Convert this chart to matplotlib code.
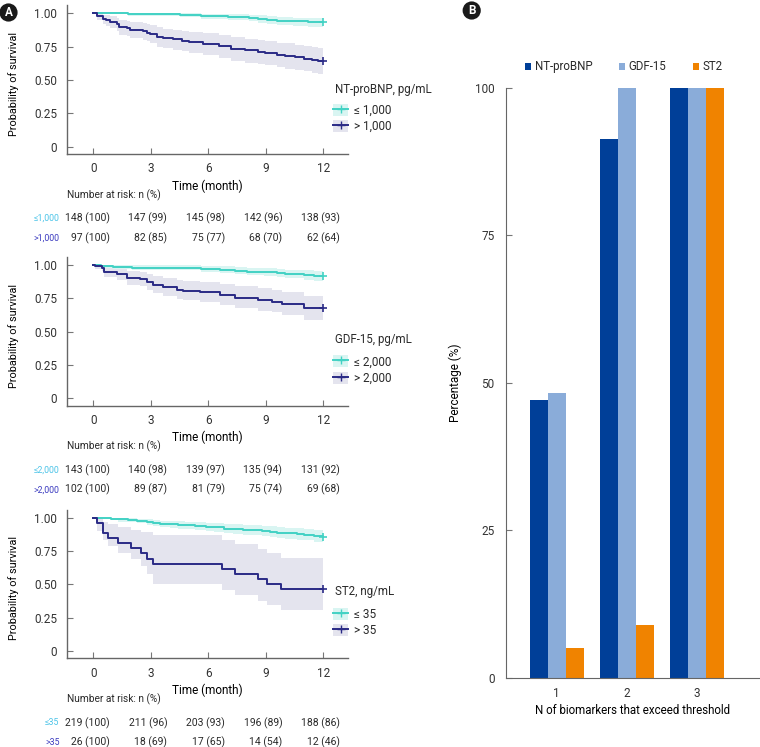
import numpy as np
import matplotlib
matplotlib.use('Agg')
import matplotlib.pyplot as plt
from matplotlib.patches import Patch
from matplotlib.lines import Line2D

plt.rcParams['font.family'] = ['Roboto', 'DejaVu Sans']
plt.rcParams['text.color'] = '#2a2a2a'
plt.rcParams['xtick.color'] = '#777777'
plt.rcParams['ytick.color'] = '#777777'
plt.rcParams['xtick.labelcolor'] = '#333333'
plt.rcParams['ytick.labelcolor'] = '#333333'

CYAN = '#42d2c4'
NAVY = '#2a2a86'
CYAN_BAND = '#d9f5f2'
NAVY_BAND = '#e4e4ee'

# ---- panel A, NT-proBNP ----
nt_lo_t = [0, 1.8, 4.5, 5.6, 7.0, 8.1, 8.6, 9.05, 9.6, 10.4, 11.2, 12]
nt_lo_s = [1.0, 0.993, 0.986, 0.980, 0.973, 0.966, 0.959, 0.953, 0.946, 0.939, 0.932, 0.932]
nt_lo_l = [1.0, 0.980, 0.970, 0.960, 0.950, 0.940, 0.931, 0.922, 0.914, 0.906, 0.898, 0.898]
nt_lo_u = [1.0, 1.0, 1.0, 0.997, 0.992, 0.988, 0.984, 0.979, 0.974, 0.968, 0.962, 0.962]

nt_hi_t = [0, 0.18, 0.52, 0.65, 0.87, 1.22, 1.36, 1.74, 1.91, 2.61, 2.78, 2.95, 3.31, 3.65, 4.18,
           4.61, 5.00, 5.74, 6.55, 7.20, 7.90, 8.61, 8.95, 9.60, 10.0, 10.5, 11.0, 11.4, 11.7, 12]
nt_hi_s = [1.0, 0.979, 0.959, 0.948, 0.938, 0.918, 0.897, 0.887, 0.876, 0.866, 0.856, 0.845, 0.825, 0.814, 0.804,
           0.794, 0.784, 0.773, 0.753, 0.732, 0.722, 0.711, 0.701, 0.691, 0.680, 0.670, 0.660, 0.649, 0.639, 0.639]
nt_hi_l = [1.0, 0.95, 0.92, 0.905, 0.89, 0.865, 0.84, 0.83, 0.815, 0.80, 0.79, 0.775, 0.75, 0.74, 0.725,
           0.715, 0.70, 0.69, 0.665, 0.645, 0.63, 0.62, 0.61, 0.60, 0.585, 0.575, 0.565, 0.555, 0.545, 0.545]
nt_hi_u = [1.0, 1.0, 0.99, 0.985, 0.98, 0.965, 0.95, 0.94, 0.935, 0.925, 0.92, 0.91, 0.895, 0.885, 0.875,
           0.87, 0.86, 0.85, 0.835, 0.82, 0.81, 0.80, 0.79, 0.78, 0.775, 0.765, 0.755, 0.745, 0.74, 0.74]

# ---- panel A, GDF-15 ----
gdf_lo_t = [0, 0.4, 1.0, 2.0, 5.6, 6.6, 7.4, 8.0, 8.9, 9.6, 10.0, 11.0, 11.5, 12]
gdf_lo_s = [1.0, 0.993, 0.986, 0.979, 0.972, 0.965, 0.958, 0.951, 0.944, 0.937, 0.930, 0.923, 0.916, 0.916]
gdf_lo_l = [1.0, 0.98, 0.97, 0.96, 0.95, 0.94, 0.932, 0.924, 0.915, 0.907, 0.899, 0.891, 0.883, 0.883]
gdf_lo_u = [1.0, 1.0, 1.0, 0.997, 0.994, 0.99, 0.985, 0.98, 0.976, 0.971, 0.966, 0.96, 0.953, 0.953]

gdf_hi_t = [0, 0.10, 0.45, 0.55, 1.22, 1.74, 2.44, 2.78, 3.13, 3.65, 4.35, 4.70, 5.57, 6.61, 7.39,
            8.61, 9.30, 9.83, 11.0, 12]
gdf_hi_s = [1.0, 0.990, 0.980, 0.951, 0.931, 0.902, 0.892, 0.873, 0.853, 0.833, 0.814, 0.804, 0.794, 0.775, 0.755,
            0.735, 0.725, 0.706, 0.676, 0.676]
gdf_hi_l = [1.0, 0.97, 0.955, 0.91, 0.885, 0.85, 0.84, 0.815, 0.79, 0.77, 0.745, 0.735, 0.72, 0.70, 0.68,
            0.655, 0.645, 0.625, 0.59, 0.59]
gdf_hi_u = [1.0, 1.0, 1.0, 0.99, 0.975, 0.955, 0.945, 0.935, 0.92, 0.905, 0.89, 0.88, 0.87, 0.855, 0.84,
            0.825, 0.815, 0.80, 0.77, 0.77]

# ---- panel A, ST2 ----
st2_lo_t = [0, 0.4, 0.9, 1.3, 1.8, 2.3, 2.8, 3.1, 3.5, 4.0, 4.4, 4.8, 5.3, 5.9, 6.3, 6.8, 7.3, 7.8,
            8.3, 8.8, 9.2, 9.6, 10.0, 10.6, 11.0, 11.5, 12]
st2_lo_s = [1.0, 0.995, 0.991, 0.986, 0.982, 0.977, 0.968, 0.963, 0.954, 0.950, 0.945, 0.941, 0.936, 0.932,
            0.927, 0.918, 0.913, 0.909, 0.904, 0.900, 0.895, 0.886, 0.881, 0.877, 0.872, 0.863, 0.858]
st2_lo_l = [1.0, 0.986, 0.979, 0.970, 0.964, 0.957, 0.945, 0.938, 0.927, 0.922, 0.916, 0.911, 0.905, 0.900,
            0.894, 0.884, 0.878, 0.873, 0.867, 0.862, 0.856, 0.846, 0.840, 0.835, 0.830, 0.820, 0.814]
st2_lo_u = [1.0, 1.0, 1.0, 0.998, 0.995, 0.992, 0.986, 0.983, 0.977, 0.974, 0.971, 0.968, 0.965, 0.962,
            0.959, 0.953, 0.949, 0.946, 0.942, 0.939, 0.935, 0.928, 0.924, 0.921, 0.917, 0.909, 0.905]

st2_hi_t = [0, 0.18, 0.52, 0.75, 1.31, 1.97, 2.49, 2.78, 3.13, 6.70, 7.39, 8.58, 9.05, 9.79, 12]
st2_hi_s = [1.0, 0.962, 0.885, 0.846, 0.808, 0.769, 0.731, 0.692, 0.654, 0.615, 0.577, 0.538, 0.500, 0.462, 0.462]
st2_hi_l = [1.0, 0.90, 0.83, 0.79, 0.735, 0.69, 0.64, 0.58, 0.50, 0.46, 0.42, 0.375, 0.343, 0.305, 0.305]
st2_hi_u = [1.0, 1.0, 0.97, 0.95, 0.93, 0.91, 0.89, 0.89, 0.867, 0.835, 0.805, 0.767, 0.735, 0.70, 0.70]

# number at risk
risk_time = [0, 3, 6, 9, 12]
nt_lo_n = [148, 147, 145, 142, 138]
nt_lo_pct = [100, 99, 98, 96, 93]
nt_hi_n = [97, 82, 75, 68, 62]
nt_hi_pct = [100, 85, 77, 70, 64]
gdf_lo_n = [143, 140, 139, 135, 131]
gdf_lo_pct = [100, 98, 97, 94, 92]
gdf_hi_n = [102, 89, 81, 75, 69]
gdf_hi_pct = [100, 87, 79, 74, 68]
st2_lo_n = [219, 211, 203, 196, 188]
st2_lo_pct = [100, 96, 93, 89, 86]
st2_hi_n = [26, 18, 17, 14, 12]
st2_hi_pct = [100, 69, 65, 54, 46]

# ---- panel B ----
bar_groups = [1, 2, 3]
bar_nt = [47, 91.3, 100]
bar_gdf = [48.3, 100, 100]
bar_st2 = [5.0, 8.9, 100]

panels = [
    dict(title='NT-proBNP, pg/mL', lab=('≤ 1,000', '> 1,000'), rlab=('≤1,000', '>1,000'),
         lo=(nt_lo_t, nt_lo_s, nt_lo_l, nt_lo_u), hi=(nt_hi_t, nt_hi_s, nt_hi_l, nt_hi_u),
         risk=((nt_lo_n, nt_lo_pct), (nt_hi_n, nt_hi_pct)), bottom=154, leg_y=(89, 118.5)),
    dict(title='GDF-15, pg/mL', lab=('≤ 2,000', '> 2,000'), rlab=('≤2,000', '>2,000'),
         lo=(gdf_lo_t, gdf_lo_s, gdf_lo_l, gdf_lo_u), hi=(gdf_hi_t, gdf_hi_s, gdf_hi_l, gdf_hi_u),
         risk=((gdf_lo_n, gdf_lo_pct), (gdf_hi_n, gdf_hi_pct)), bottom=405.7, leg_y=(340, 370)),
    dict(title='ST2, ng/mL', lab=('≤ 35', '> 35'), rlab=('≤35', '>35'),
         lo=(st2_lo_t, st2_lo_s, st2_lo_l, st2_lo_u), hi=(st2_hi_t, st2_hi_s, st2_hi_l, st2_hi_u),
         risk=((st2_lo_n, st2_lo_pct), (st2_hi_n, st2_hi_pct)), bottom=658.3, leg_y=(592, 622.5)),
]

W, H = 760, 747
fig = plt.figure(figsize=(7.6, 7.47), dpi=100)

ax_h = 148.7
for p in panels:
    ax = fig.add_axes([66.7 / W, 1 - p['bottom'] / H, 281.6 / W, ax_h / H])
    for (t, s, l, u), band in ((p['hi'], NAVY_BAND), (p['lo'], CYAN_BAND)):
        ax.fill_between(t, l, u, step='post', color=band, lw=0, zorder=1)
    for (t, s, l, u), col in ((p['lo'], CYAN), (p['hi'], NAVY)):
        ax.step(t, s, where='post', color=col, lw=1.4, zorder=3)
        ax.plot(t[-1], s[-1], marker='+', color=col, ms=6, mew=1.2, zorder=4)
    ax.set_xlim(-1.39, 13.3)
    ax.set_ylim(-0.055, 1.06)
    ax.set_xticks(risk_time)
    ax.set_yticks([0, 0.25, 0.5, 0.75, 1.0])
    ax.set_yticklabels(['0', '0.25', '0.50', '0.75', '1.00'])
    ax.tick_params(direction='in', length=4, width=0.8, labelsize=8.5)
    ax.tick_params(axis='x', pad=6)
    ax.tick_params(axis='y', pad=7)
    for sp in ['top', 'right']:
        ax.spines[sp].set_visible(False)
    for sp in ['left', 'bottom']:
        ax.spines[sp].set_color('#666666')
        ax.spines[sp].set_linewidth(1.0)
    ax.set_ylabel('Probability of survival', fontsize=7.8)
    ax.yaxis.set_label_coords(-0.17, 0.47)
    ax.set_xlabel('Time (month)', fontsize=8.5, va='top')
    ax.xaxis.set_label_coords(0.5, -0.17)

    # number at risk table
    tr = ax.get_xaxis_transform()
    ax.text(0, -41 / ax_h, 'Number at risk: n (%)', transform=ax.transAxes, fontsize=7.3,
            ha='left', va='center')
    for row, ((n, pct), col, rl) in enumerate(zip(p['risk'], ('#4cc4e8', '#3b3bc0'), p['rlab'])):
        yy = -(64.5 + 19.5 * row) / ax_h
        ax.text(-1.77, yy, rl, transform=tr, fontsize=6.3, color=col, ha='right', va='center')
        for tt, nn, pp in zip(risk_time, n, pct):
            ax.text(tt + 0.85, yy, f'{nn} ({pp})', transform=tr, fontsize=7.5, ha='right', va='center')

    # legend: title as text, entries as legend
    fig.text(335 / W, 1 - p['leg_y'][0] / H, p['title'], fontsize=8.3, ha='left', va='center')
    handles = [(Patch(fc=CYAN_BAND, ec='none'), Line2D([], [], color=CYAN, lw=1.4, marker='+', ms=6)),
               (Patch(fc=NAVY_BAND, ec='none'), Line2D([], [], color=NAVY, lw=1.4, marker='+', ms=6))]
    fig.legend(handles, list(p['lab']), loc='center left',
               bbox_to_anchor=(333 / W, 1 - p['leg_y'][1] / H), frameon=False,
               fontsize=8.5, borderpad=0, borderaxespad=0,
               handlelength=1.3, handleheight=1.2, handletextpad=0.45, labelspacing=0.28)

# panel B bar chart
axb = fig.add_axes([505.7 / W, 1 - 677.7 / H, (W - 505.7) / W, 590 / H])
x = np.array(bar_groups)
w = 0.257
axb.bar(x - w, bar_nt, w, color='#003f98', label='NT-proBNP')
axb.bar(x, bar_gdf, w, color='#8aacd9', label='GDF-15')
axb.bar(x + w, bar_st2, w, color='#f08300', label='ST2')
axb.set_xlim(0.271, 3.904)
axb.set_ylim(0, 100)
axb.set_xticks(bar_groups)
axb.set_yticks([0, 25, 50, 75, 100])
axb.tick_params(axis='x', length=0, pad=7, labelsize=8.5)
axb.tick_params(axis='y', direction='in', length=4, width=0.8, pad=8, labelsize=8.5)
for sp in ['top', 'right']:
    axb.spines[sp].set_visible(False)
for sp in ['left', 'bottom']:
    axb.spines[sp].set_color('#666666')
axb.set_ylabel('Percentage (%)', fontsize=8.5)
axb.yaxis.set_label_coords(-0.17, 0.5)
axb.set_xlabel('N of biomarkers that exceed threshold', fontsize=8.3, va='top')
axb.xaxis.set_label_coords(0.5, -0.044)
fig.legend(*axb.get_legend_handles_labels(), loc='center left', ncol=3,
           bbox_to_anchor=(525 / W, 1 - 66.7 / H), frameon=False, fontsize=8.3,
           borderpad=0, borderaxespad=0, handlelength=0.55, handleheight=0.55,
           handletextpad=0.3, columnspacing=2.3)

# panel letters
for lx, ly, letter in ((8.5, 12.5, 'A'), (471.7, 10.5, 'B')):
    fig.text(lx / W, 1 - ly / H, letter, color='white', fontsize=8.5, fontweight='bold',
             ha='center', va='center',
             bbox=dict(boxstyle='circle,pad=0.22', fc='#1a1a1a', ec='none'))

fig.savefig('out.png', dpi=100)
